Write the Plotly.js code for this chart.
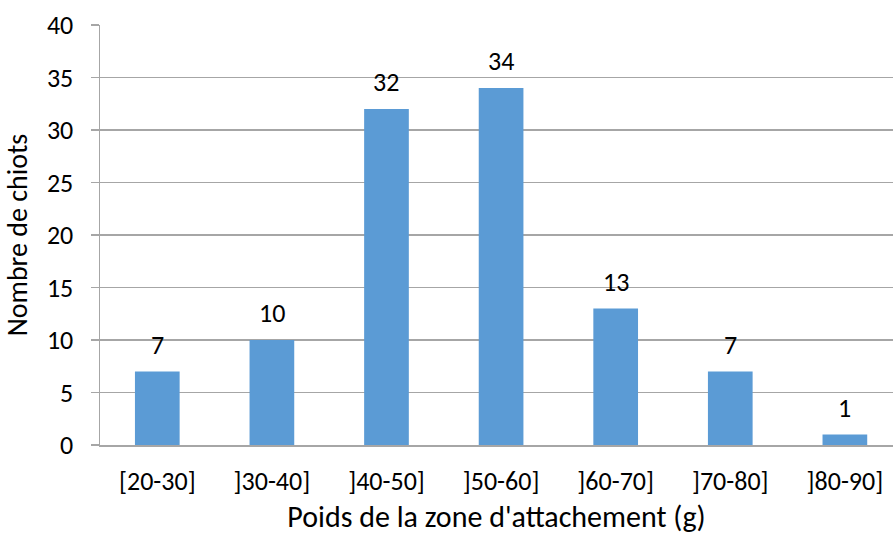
<!DOCTYPE html>
<html><head><meta charset="utf-8">
<script src="https://cdn.plot.ly/plotly-3.0.1.min.js"></script>
<style>body{margin:0;background:#fff}#c{width:893px;height:535px}</style>
</head><body><div id="c"></div>
<script>
const categories = ["[20-30]", "]30-40]", "]40-50]", "]50-60]", "]60-70]", "]70-80]", "]80-90]"];
const counts = [7, 10, 32, 34, 13, 7, 1];
const yTicks = [0, 5, 10, 15, 20, 25, 30, 35, 40];

const font = "Carlito, 'Open Sans', 'Noto Sans', sans-serif";
const trace = {
  type: "bar", x: categories, y: counts,
  marker: {color: "#5b9bd5"}, width: 0.39, hoverinfo: "none"
};
const annotations = categories.map((c, i) => ({
  x: c, y: counts[i], xref: "x", yref: "y", text: String(counts[i]),
  showarrow: false, yanchor: "bottom", yshift: 9,
  font: {family: font, size: 26, color: "#000"}
}));
const layout = {
  width: 893, height: 535,
  margin: {l: 100, r: 0, t: 25, b: 90},
  paper_bgcolor: "#fff", plot_bgcolor: "#fff",
  showlegend: false, bargap: 0.61,
  font: {family: font, size: 26, color: "#000"},
  xaxis: {
    type: "category", range: [-0.5, 6.42],
    showline: true, linecolor: "#a6a6a6", linewidth: 1.5,
    showgrid: false, ticks: "", ticklabelstandoff: 12,
    tickfont: {family: font, size: 26, color: "#000"},
    title: {text: "Poids de la zone d'attachement (g)", font: {family: font, size: 30, color: "#000"}, standoff: 14}
  },
  yaxis: {
    range: [0, 40], tickvals: yTicks, ticktext: yTicks.map(String),
    showline: true, linecolor: "#a6a6a6", linewidth: 1.5,
    showgrid: true, gridcolor: "#a6a6a6", gridwidth: 1.5, zeroline: false,
    ticks: "outside", ticklen: 8, tickcolor: "#a6a6a6", tickwidth: 1.5,
    ticklabelstandoff: 12,
    tickfont: {family: font, size: 26, color: "#000"},
    title: {text: "Nombre de chiots", font: {family: font, size: 28, color: "#000"}, standoff: 14}
  },
  annotations: annotations
};
Plotly.newPlot("c", [trace], layout, {displayModeBar: false, staticPlot: true});
</script></body></html>
